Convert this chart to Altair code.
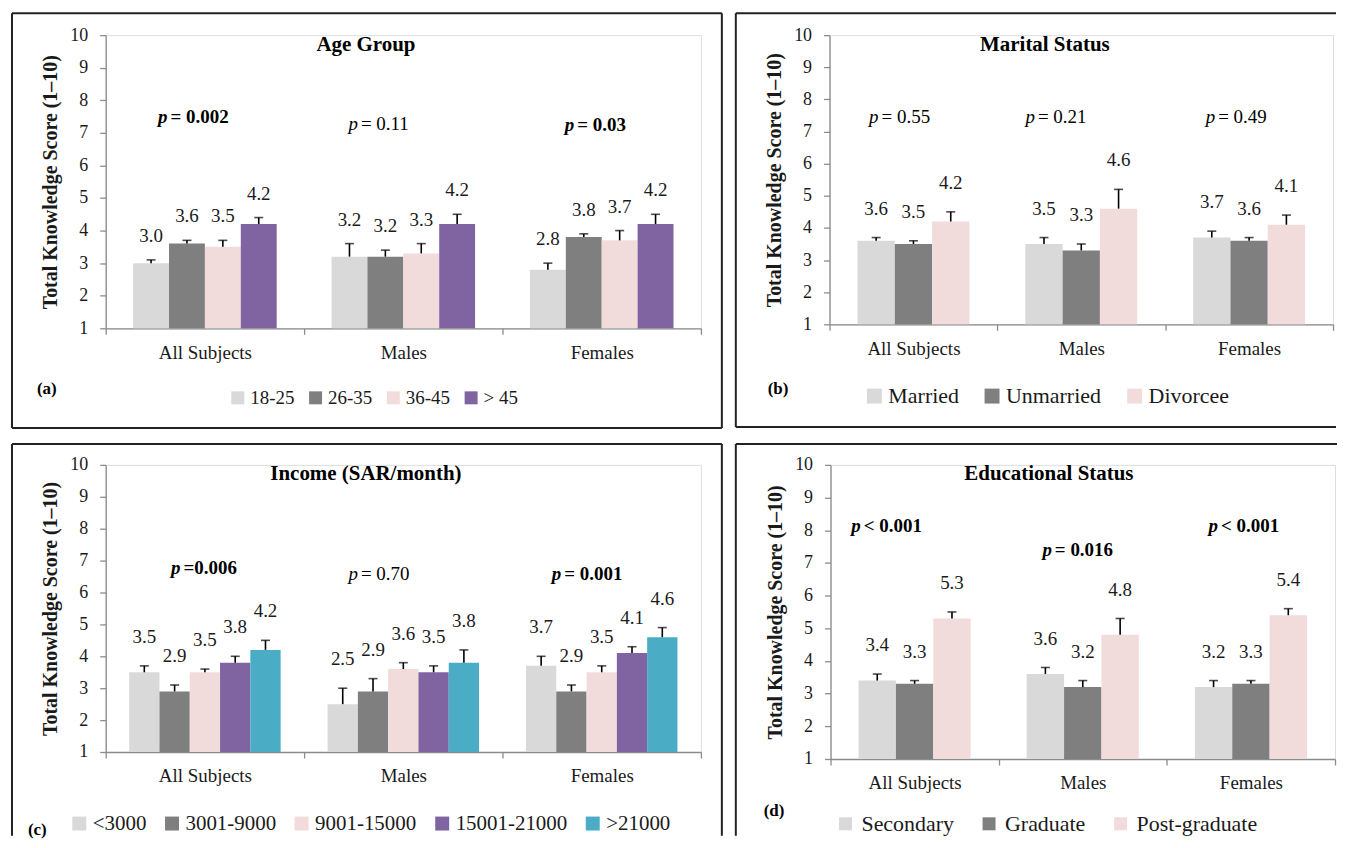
import altair as alt
import pandas as pd

FONT = "Liberation Serif"
AXIS_GRAY = "#8c8c8c"
GROUPS = ["All Subjects", "Males", "Females"]
Y_TITLE = "Total Knowledge Score (1–10)"
Y_TICKS = [1, 2, 3, 4, 5, 6, 7, 8, 9, 10]

# ---------------- data ----------------
# (a) Age group
AGE_CATS = ["18-25", "26-35", "36-45", "> 45"]
AGE_COLORS = ["#d9d9d9", "#7f7f7f", "#f2dcdb", "#8064a2"]
AGE_VALUES = [[3.0, 3.6, 3.5, 4.2], [3.2, 3.2, 3.3, 4.2], [2.8, 3.8, 3.7, 4.2]]
AGE_ERRORS = [[0.1, 0.1, 0.2, 0.2], [0.4, 0.2, 0.3, 0.3], [0.2, 0.1, 0.3, 0.3]]
AGE_P = ["= 0.002", "= 0.11", "= 0.03"]
AGE_P_BOLD = [True, False, True]
AGE_P_Y = [7.49, 7.28, 7.25]

# (b) Marital status
MAR_CATS = ["Married", "Unmarried", "Divorcee"]
MAR_COLORS = ["#d9d9d9", "#7f7f7f", "#f2dcdb"]
MAR_VALUES = [[3.6, 3.5, 4.2], [3.5, 3.3, 4.6], [3.7, 3.6, 4.1]]
MAR_ERRORS = [[0.1, 0.1, 0.3], [0.2, 0.2, 0.6], [0.2, 0.1, 0.3]]
MAR_P = ["= 0.55", "= 0.21", "= 0.49"]
MAR_P_BOLD = [False, False, False]
MAR_P_Y = [7.45, 7.45, 7.45]

# (c) Income
INC_CATS = ["<3000", "3001-9000", "9001-15000", "15001-21000", ">21000"]
INC_COLORS = ["#d9d9d9", "#7f7f7f", "#f2dcdb", "#8064a2", "#4bacc6"]
INC_VALUES = [[3.5, 2.9, 3.5, 3.8, 4.2], [2.5, 2.9, 3.6, 3.5, 3.8], [3.7, 2.9, 3.5, 4.1, 4.6]]
INC_ERRORS = [[0.2, 0.2, 0.1, 0.2, 0.3], [0.5, 0.4, 0.2, 0.2, 0.4], [0.3, 0.2, 0.2, 0.2, 0.3]]
INC_P = ["=0.006", "= 0.70", "= 0.001"]
INC_P_BOLD = [True, False, True]
INC_P_Y = [6.78, 6.58, 6.58]

# (d) Educational status
EDU_CATS = ["Secondary", "Graduate", "Post-graduate"]
EDU_COLORS = ["#d9d9d9", "#7f7f7f", "#f2dcdb"]
EDU_VALUES = [[3.4, 3.3, 5.3], [3.6, 3.2, 4.8], [3.2, 3.3, 5.4]]
EDU_ERRORS = [[0.2, 0.1, 0.2], [0.2, 0.2, 0.5], [0.2, 0.1, 0.2]]
EDU_P = ["< 0.001", "= 0.016", "< 0.001"]
EDU_P_BOLD = [True, True, True]
EDU_P_Y = [8.14, 7.39, 8.14]

# ---------------- layout (pixels, relative to each plot area) ----------------
LAY_A = dict(W=597, H=294, pad=0.764, title_x=261, title_y=10, tag_x=-69, tag_y=355,
             border=(-94, -22, 618, 394), sides=("l", "t", "r", "b"),
             leg=dict(x=123, y=354, size=19, sym=169, colpad=11, off=3),
             p_dx=[-37.5, -45.5, -27.5], lab_dy=24)
LAY_B = dict(W=505, H=290, pad=0.75, title_x=216, title_y=10, tag_x=-62, tag_y=355,
             border=(-94, -22, 508, 393), sides=("l", "t", "b"),
             leg=dict(x=34, y=351, size=22, sym=225, colpad=22, off=3),
             p_dx=[-35, -46.5, -34], lab_dy=29)
LAY_C = dict(W=597, H=288, pad=0.775, title_x=261, title_y=9, tag_x=-78, tag_y=366,
             border=(-94, -21, 618, 372), sides=("l", "t", "r"),
             leg=dict(x=-37, y=349, size=21, sym=196, colpad=15, off=3),
             p_dx=[-24.5, -45.5, -40.5], lab_dy=29)
LAY_D = dict(W=506, H=295, pad=0.75, title_x=219, title_y=9, tag_x=-67, tag_y=347,
             border=(-95, -21, 508, 372), sides=("l", "t"),
             leg=dict(x=4, y=349, size=22, sym=169, colpad=24, off=5),
             p_dx=[-54, -31, -33], lab_dy=29)

ONE = pd.DataFrame({"k": [0]})


def vtext(text, x, y, size, weight="normal", align="center"):
    return alt.Chart(ONE).mark_text(
        text=text, font=FONT, fontSize=size, fontWeight=weight, align=align,
        baseline="middle", color="black"
    ).encode(x=alt.value(x), y=alt.value(y))


def vrule(x, y, x2, y2):
    return alt.Chart(ONE).mark_rule(color="#222222", strokeWidth=2).encode(
        x=alt.value(x), y=alt.value(y), x2=alt.value(x2), y2=alt.value(y2))


def panel(key, title, tag, cats, colors, values, errors, p_txt, p_bold, p_y, lay):
    W, H = lay["W"], lay["H"]
    rows = []
    for g, vs, es in zip(GROUPS, values, errors):
        for c, v, e in zip(cats, vs, es):
            rows.append({"group": g, key: c, "value": v, "top": round(v + e, 2)})
    df = pd.DataFrame(rows)

    y_scale = alt.Scale(domain=[1, 10], nice=False, zero=False)
    x_axis = alt.Axis(labelAngle=0, labelFont=FONT, labelFontSize=19, labelColor="#1a1a1a",
                      labelPadding=9, tickBand="extent", tickSize=6, tickColor=AXIS_GRAY,
                      domainColor=AXIS_GRAY, domainWidth=1.3, tickWidth=1.3, grid=False)
    y_axis = alt.Axis(values=Y_TICKS, tickCount=10, format="d", grid=False, labelFont=FONT,
                      labelFontSize=18, labelColor="#1a1a1a", labelPadding=12, tickSize=6,
                      labelOverlap=False, labelFlush=False, labelBound=False,
                      tickColor=AXIS_GRAY, domainColor=AXIS_GRAY, domainWidth=1.3, tickWidth=1.3,
                      titleFont=FONT, titleFontSize=20, titleFontWeight="bold", titleColor="#1a1a1a",
                      titleX=-55, titleY=H / 2, titleAngle=-90, titleAlign="center",
                      titleBaseline="middle")

    def yenc(field):
        return alt.Y(field, scale=y_scale, axis=y_axis, title=Y_TITLE)

    x_enc = alt.X("group:N", sort=GROUPS, title=None,
                  scale=alt.Scale(paddingInner=0, paddingOuter=0), axis=x_axis)
    xo = alt.XOffset(f"{key}:N", sort=cats,
                     scale=alt.Scale(paddingInner=0, paddingOuter=lay["pad"]))
    lg = lay["leg"]
    color = alt.Color(f"{key}:N", sort=cats, scale=alt.Scale(domain=cats, range=colors),
                      legend=alt.Legend(orient="none", legendX=lg["x"], legendY=lg["y"],
                                        direction="horizontal", title=None, symbolType="square",
                                        symbolSize=lg["sym"], symbolStrokeWidth=0,
                                        labelFont=FONT, labelFontSize=lg["size"],
                                        labelColor="#1a1a1a", columnPadding=lg["colpad"],
                                        labelOffset=lg["off"]))
    base = alt.Chart(df)
    layers = [
        base.mark_bar().encode(x=x_enc, xOffset=xo, y=yenc("value:Q"),
                               y2=alt.datum(1), color=color),
        base.mark_rule(color="black", strokeWidth=1.6).encode(
            x=x_enc, xOffset=xo, y=yenc("value:Q"), y2="top:Q"),
        base.mark_tick(color="black", thickness=1.6, size=9).encode(
            x=x_enc, xOffset=xo, y=yenc("top:Q")),
        base.mark_text(font=FONT, fontSize=19, baseline="middle", color="#1a1a1a",
                       dy=-lay["lab_dy"]).encode(
            x=x_enc, xOffset=xo, y=yenc("top:Q"),
            text=alt.Text("value:Q", format=".1f")),
    ]
    for i, g in enumerate(GROUPS):
        pdf = pd.DataFrame([{"group": g, "py": p_y[i], "p": "p", "rest": p_txt[i]}])
        w = "bold" if p_bold[i] else "normal"
        layers.append(alt.Chart(pdf).mark_text(
            font=FONT, fontSize=19, fontStyle="italic", fontWeight=w, align="right",
            baseline="middle", color="black", dx=lay["p_dx"][i]).encode(
            x=x_enc, y=yenc("py:Q"), text="p:N"))
        layers.append(alt.Chart(pdf).mark_text(
            font=FONT, fontSize=19, fontWeight=w, align="left", baseline="middle",
            color="black", dx=lay["p_dx"][i] + 3).encode(
            x=x_enc, y=yenc("py:Q"), text="rest:N"))

    layers.append(vtext(title, lay["title_x"], lay["title_y"], 21, "bold"))
    layers.append(vtext(tag, lay["tag_x"], lay["tag_y"], 17, "bold", "left"))
    l, t, r, b = lay["border"]
    sides = lay["sides"]
    if "l" in sides:
        layers.append(vrule(l, t, l, b))
    if "t" in sides:
        layers.append(vrule(l, t, r, t))
    if "r" in sides:
        layers.append(vrule(r, t, r, b))
    if "b" in sides:
        layers.append(vrule(l, b, r, b))
    return alt.layer(*layers).properties(width=W, height=H)


pa = panel("age", "Age Group", "(a)", AGE_CATS, AGE_COLORS, AGE_VALUES, AGE_ERRORS,
           AGE_P, AGE_P_BOLD, AGE_P_Y, LAY_A)
pb = panel("marital", "Marital Status", "(b)", MAR_CATS, MAR_COLORS, MAR_VALUES, MAR_ERRORS,
           MAR_P, MAR_P_BOLD, MAR_P_Y, LAY_B)
pc = panel("income", "Income (SAR/month)", "(c)", INC_CATS, INC_COLORS, INC_VALUES, INC_ERRORS,
           INC_P, INC_P_BOLD, INC_P_Y, LAY_C)
pdd = panel("edu", "Educational Status", "(d)", EDU_CATS, EDU_COLORS, EDU_VALUES, EDU_ERRORS,
            EDU_P, EDU_P_BOLD, EDU_P_Y, LAY_D)

row1 = alt.hconcat(pa, pb, spacing=10).resolve_scale(color="independent", xOffset="independent")
row2 = alt.hconcat(pc, pdd, spacing=10).resolve_scale(color="independent", xOffset="independent")
chart = (
    alt.vconcat(row1, row2, spacing=12)
    .resolve_scale(color="independent", xOffset="independent")
    .configure_view(stroke=None)
    .configure(font=FONT)
    .properties(padding={"left": 2, "top": 2, "right": 0, "bottom": 0}, background="white")
)

chart.save("out.html", embed_options={"renderer": "svg", "actions": False})
